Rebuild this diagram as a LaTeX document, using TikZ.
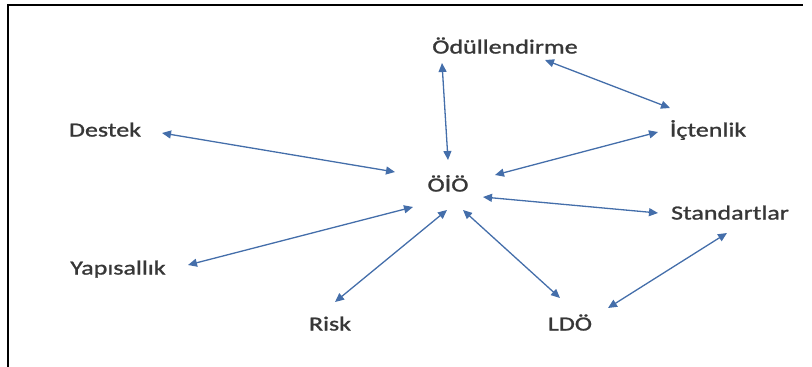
\documentclass[tikz,border=0pt]{standalone}
\usepackage{fontspec}
\setmainfont{Carlito}[FakeStretch=1.3, FakeBold=1.2]
\usetikzlibrary{arrows.meta}
\definecolor{linkblue}{RGB}{68,110,170}
\definecolor{textgray}{RGB}{55,55,55}

\begin{document}
\begin{tikzpicture}[x=1pt, y=-1pt,
	lbl/.style={text=textgray, font=\fontsize{20}{24}\selectfont, inner sep=0pt, text height=13pt, text depth=0pt},
	link/.style={linkblue, line width=1.3pt, {Triangle[length=9pt,width=8pt]}-{Triangle[length=9pt,width=8pt]}}]
	\useasboundingbox (0,0) rectangle (812,367);
	\draw [line width=1.3pt] (8,367) -- (8,5) -- (803,5);

	\node [lbl] (odul) at (505,47) {Ödüllendirme};
	\node [lbl] (destek) at (105,130) {Destek};
	\node [lbl] (ict) at (708,130) {İçtenlik};
	\node [lbl] (oio) at (448,185) {ÖİÖ};
	\node [lbl] (std) at (730,213) {Standartlar};
	\node [lbl] (yap) at (118,268) {Yapısallık};
	\node [lbl] (risk) at (330,324) {Risk};
	\node [lbl] (ldo) at (570,324) {LDÖ};

	\draw [link] ([shift={(-63,16)}]odul.center) -- ([shift={(0,-25)}]oio.center);
	\draw [link] ([shift={(40,13)}]odul.center) -- ([shift={(-38,-22)}]ict.center);
	\draw [link] ([shift={(57,3)}]destek.center) -- ([shift={(-53,-13)}]oio.center);
	\draw [link] ([shift={(-50,2)}]ict.center) -- ([shift={(47,-10)}]oio.center);
	\draw [link] ([shift={(35,12)}]oio.center) -- ([shift={(-72,0)}]std.center);
	\draw [link] ([shift={(70,-3)}]yap.center) -- ([shift={(-35,22)}]oio.center);
	\draw [link] ([shift={(5,-22)}]risk.center) -- ([shift={(-1,25)}]oio.center);
	\draw [link] ([shift={(15,25)}]oio.center) -- ([shift={(-10,-26)}]ldo.center);
	\draw [link] ([shift={(-3,20)}]std.center) -- ([shift={(38,-16)}]ldo.center);
\end{tikzpicture}
\end{document}
